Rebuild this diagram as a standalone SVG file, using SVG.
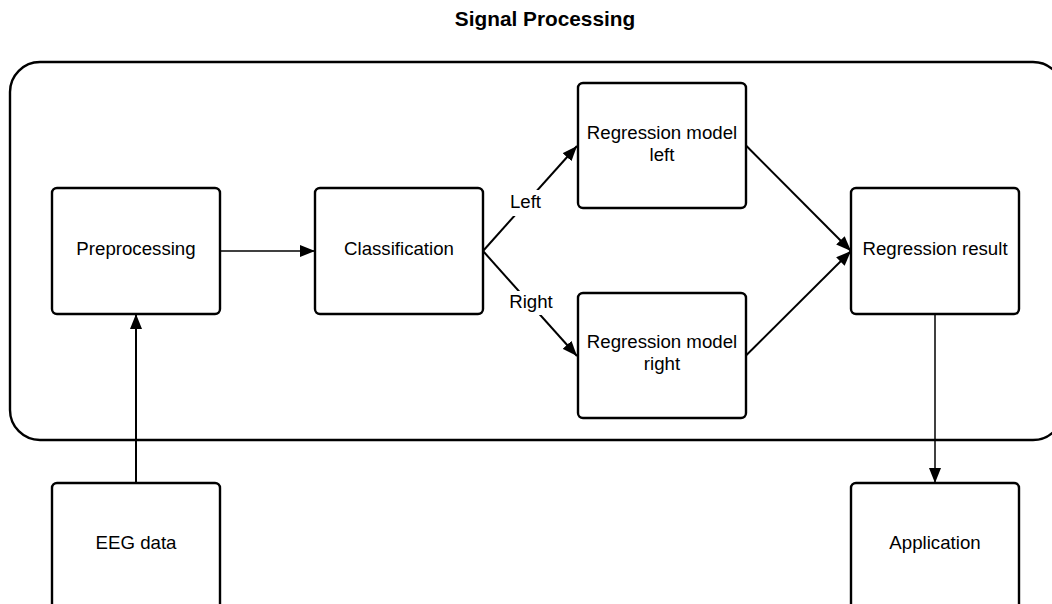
<svg xmlns="http://www.w3.org/2000/svg" width="1052" height="604" viewBox="0 0 1052 604">
<style>
.box{fill:#fff;stroke:#000;stroke-width:2.4}
.cont{fill:none;stroke:#000;stroke-width:2.4}
.t{font-family:"Liberation Sans",Arial,sans-serif;font-size:18.67px;fill:#000;text-anchor:middle}
.title{font-family:"Liberation Sans",Arial,sans-serif;font-size:20.8px;font-weight:bold;fill:#000;text-anchor:middle}
.c{fill:none;stroke:#000;stroke-width:2}
.c1{fill:none;stroke:#000;stroke-width:1.5}
.lbl{fill:#fff;stroke:none}
</style>
<defs>
<marker id="arr" markerUnits="userSpaceOnUse" markerWidth="15" markerHeight="12" refX="15" refY="6" orient="auto">
<path d="M0,0 L15,6 L0,12 z" fill="#000"/>
</marker>
</defs>
<rect width="1052" height="604" fill="#fff"/>
<text class="title" x="545" y="26">Signal Processing</text>
<g id="container">
<rect class="cont" x="10" y="62" width="1053" height="378" rx="30" ry="30"/>
</g>
<g id="preprocessing">
<rect class="box" x="52" y="188" width="168" height="126" rx="5"/>
<text class="t" x="136" y="255">Preprocessing</text>
</g>
<g id="classification">
<rect class="box" x="315" y="188" width="168" height="126" rx="5"/>
<text class="t" x="399" y="255">Classification</text>
</g>
<g id="reg-left">
<rect class="box" x="578" y="83" width="168" height="125" rx="5"/>
<text class="t" x="662" y="138.5">Regression model</text>
<text class="t" x="662" y="160.5">left</text>
</g>
<g id="reg-right">
<rect class="box" x="578" y="293" width="168" height="125" rx="5"/>
<text class="t" x="662" y="347.5">Regression model</text>
<text class="t" x="662" y="369.5">right</text>
</g>
<g id="reg-result">
<rect class="box" x="851" y="188" width="168" height="126" rx="5"/>
<text class="t" x="935" y="254.5">Regression result</text>
</g>
<g id="eeg">
<rect class="box" x="52" y="483" width="168" height="140" rx="5"/>
<text class="t" x="136" y="548.5">EEG data</text>
</g>
<g id="application">
<rect class="box" x="851" y="483" width="168" height="140" rx="5"/>
<text class="t" x="935" y="548.5">Application</text>
</g>
<g id="connectors">
<line class="c1" x1="220" y1="251" x2="315" y2="251" marker-end="url(#arr)"/>
<line class="c" x1="483" y1="251" x2="577" y2="146" marker-end="url(#arr)"/>
<line class="c" x1="483" y1="251" x2="577" y2="356" marker-end="url(#arr)"/>
<line class="c" x1="746" y1="145.5" x2="851" y2="251" marker-end="url(#arr)"/>
<line class="c" x1="746" y1="355.5" x2="851" y2="251" marker-end="url(#arr)"/>
<line class="c" x1="136" y1="483" x2="136" y2="314" marker-end="url(#arr)"/>
<line class="c1" x1="935" y1="314" x2="935" y2="483" marker-end="url(#arr)"/>
<rect class="lbl" x="506" y="190" width="40" height="26"/>
<text class="t" x="525.5" y="208.3">Left</text>
<rect class="lbl" x="507" y="291" width="48" height="24"/>
<text class="t" x="531" y="308.3">Right</text>
</g>
</svg>
